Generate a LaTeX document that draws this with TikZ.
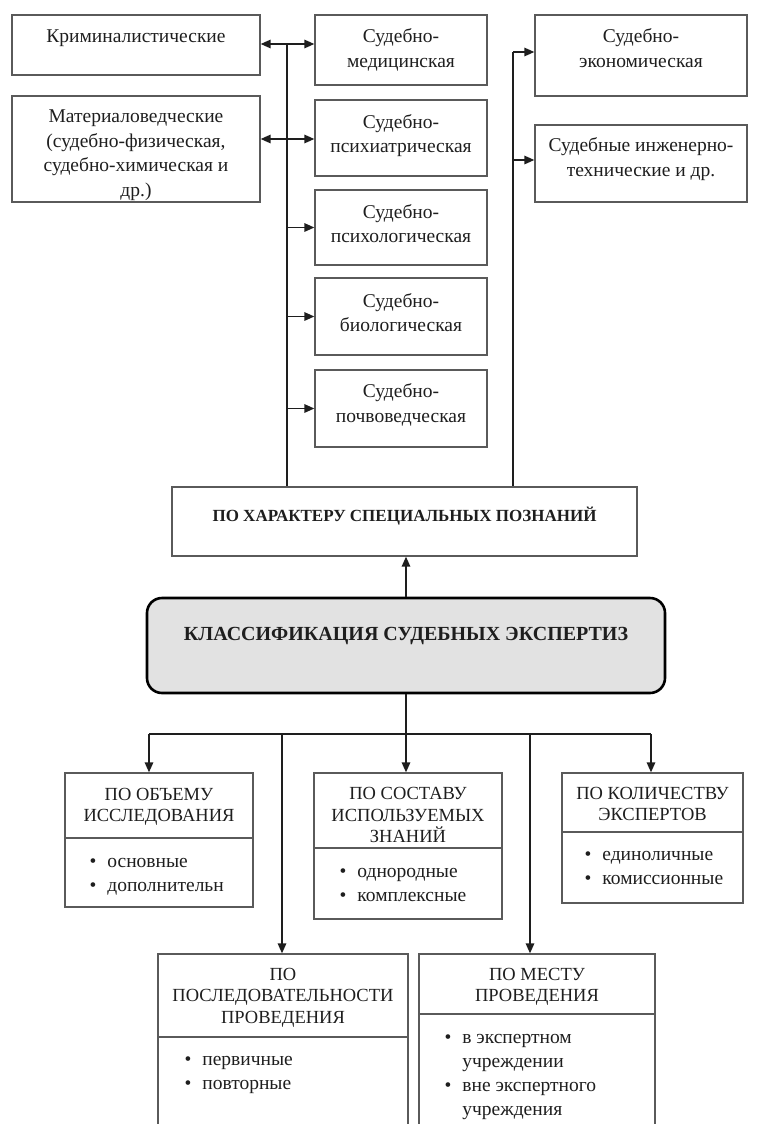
\documentclass[tikz,border=0pt]{standalone}
\usepackage{fontspec}
\setmainfont{Liberation Serif}
\usetikzlibrary{arrows.meta,positioning}
\definecolor{edge}{HTML}{5A5A5A}
\definecolor{ink}{HTML}{1E1E1E}
\definecolor{mainfill}{HTML}{E2E2E2}

\begin{document}
\begin{tikzpicture}[x=1pt,y=-1pt,
    blk/.style={draw=edge,line width=1.3pt,inner sep=0pt},
    txt/.style={align=center,inner sep=0pt,anchor=north,text=ink,
        font=\fontsize{19.5}{24.5}\selectfont},
    hd/.style={align=center,inner sep=0pt,anchor=north,text=ink,
        font=\fontsize{18.5}{21.5}\selectfont},
    lst/.style={align=left,inner sep=0pt,anchor=north west,text=ink,
        font=\fontsize{19.5}{24}\selectfont},
    arr/.style={draw=ink,line width=1.5pt,-{Triangle[length=10pt,width=8.5pt]}},
    darr/.style={draw=ink,line width=1.5pt,{Triangle[length=10pt,width=8.5pt]}-{Triangle[length=10pt,width=8.5pt]}},
    ln/.style={draw=ink,line width=1.5pt}]

    \path[use as bounding box,clip] (0,0) rectangle (757,1124);

    % the boxes

    \node[blk,minimum width=248pt,minimum height=60pt] (krim) at (136,45) {};
    \node[blk,minimum width=248pt,minimum height=106pt] (mat) at (136,149) {};
    \node[blk,minimum width=172pt,minimum height=70pt] (med) at (401,50) {};
    \node[blk,minimum width=172pt,minimum height=76pt] (psi) at (401,138) {};
    \node[blk,minimum width=172pt,minimum height=75pt] (pslg) at (401,227.5) {};
    \node[blk,minimum width=172pt,minimum height=77pt] (bio) at (401,316.5) {};
    \node[blk,minimum width=172pt,minimum height=77pt] (pochv) at (401,408.5) {};
    \node[blk,minimum width=212pt,minimum height=81pt] (econ) at (641,55.5) {};
    \node[blk,minimum width=212pt,minimum height=77pt] (ing) at (641,163.5) {};
    \node[blk,minimum width=465pt,minimum height=69pt] (har) at (404.5,521.5) {};
    \node[draw=black,line width=2.6pt,rounded corners=15pt,fill=mainfill,
        minimum width=518pt,minimum height=95pt] (main) at (406,645.5) {};
    \node[blk,minimum width=188pt,minimum height=134pt] (obj) at (159,840) {};
    \node[blk,minimum width=188pt,minimum height=146pt] (sost) at (408,846) {};
    \node[blk,minimum width=181pt,minimum height=130pt] (kol) at (652.5,838) {};
    \node[blk,minimum width=250pt,minimum height=196pt] (posl) at (283,1052) {};
    \node[blk,minimum width=236pt,minimum height=196pt] (mesto) at (537,1052) {};

    \draw[edge,line width=1.3pt] (obj.west |- 0,838) -- (obj.east |- 0,838);
    \draw[edge,line width=1.3pt] (sost.west |- 0,848) -- (sost.east |- 0,848);
    \draw[edge,line width=1.3pt] (kol.west |- 0,832) -- (kol.east |- 0,832);
    \draw[edge,line width=1.3pt] (posl.west |- 0,1037) -- (posl.east |- 0,1037);
    \draw[edge,line width=1.3pt] (mesto.west |- 0,1014) -- (mesto.east |- 0,1014);

    % the texts

    \node[txt] (krim-t) at (krim.north |- 0,25.5) {\strut Криминалистические};
    \node[txt] (mat-t) at (mat.north |- 0,105.5) {\strut Материаловедческие\\(судебно-физическая,\\судебно-химическая и\\др.)};
    \node[txt] (med-t) at (med.north |- 0,25.5) {\strut Судебно-\\медицинская};
    \node[txt] (psi-t) at (psi.north |- 0,111) {\strut Судебно-\\психиатрическая};
    \node[txt] (pslg-t) at (pslg.north |- 0,201) {\strut Судебно-\\психологическая};
    \node[txt] (bio-t) at (bio.north |- 0,290) {\strut Судебно-\\биологическая};
    \node[txt] (pochv-t) at (pochv.north |- 0,380.5) {\strut Судебно-\\почвоведческая};
    \node[txt] (econ-t) at (econ.north |- 0,25.5) {\strut Судебно-\\экономическая};
    \node[txt] (ing-t) at (ing.north |- 0,134.5) {\strut Судебные инженерно-\\технические и др.};
    \node[txt,font=\fontsize{17}{21}\selectfont\bfseries] (har-t) at (har.north |- 0,506.5) {\strut ПО ХАРАКТЕРУ СПЕЦИАЛЬНЫХ ПОЗНАНИЙ};
    \node[txt,font=\fontsize{20}{24}\selectfont\bfseries] (main-t) at (main.north |- 0,623.5) {\strut КЛАССИФИКАЦИЯ СУДЕБНЫХ ЭКСПЕРТИЗ};

    \node[hd] (obj-t) at (obj.north |- 0,785) {\strut ПО ОБЪЕМУ\\ИССЛЕДОВАНИЯ};
    \node[hd] (sost-t) at (sost.north |- 0,784.5) {\strut ПО СОСТАВУ\\ИСПОЛЬЗУЕМЫХ\\ЗНАНИЙ};
    \node[hd] (kol-t) at (kol.north |- 0,784) {\strut ПО КОЛИЧЕСТВУ\\ЭКСПЕРТОВ};
    \node[hd] (posl-t) at (posl.north |- 0,965) {\strut ПО\\ПОСЛЕДОВАТЕЛЬНОСТИ\\ПРОВЕДЕНИЯ};
    \node[hd] (mesto-t) at (mesto.north |- 0,965) {\strut ПО МЕСТУ\\ПРОВЕДЕНИЯ};

    \node[lst] (obj-l) at ([xshift=25pt]obj.west |- 0,850.7) {\strut\textbullet\hspace{11pt}основные\\\textbullet\hspace{11pt}дополнительн};
    \node[lst] (sost-l) at ([xshift=26pt]sost.west |- 0,860.7) {\strut\textbullet\hspace{11pt}однородные\\\textbullet\hspace{11pt}комплексные};
    \node[lst] (kol-l) at ([xshift=23pt]kol.west |- 0,843.5) {\strut\textbullet\hspace{11pt}единоличные\\\textbullet\hspace{11pt}комиссионные};
    \node[lst] (posl-l) at ([xshift=27pt]posl.west |- 0,1048.7) {\strut\textbullet\hspace{11pt}первичные\\\textbullet\hspace{11pt}повторные};
    \node[lst] (mesto-l) at ([xshift=26pt]mesto.west |- 0,1026.7) {\strut\textbullet\hspace{11pt}в экспертном\\\hphantom{\textbullet}\hspace{11pt}учреждении\\\textbullet\hspace{11pt}вне экспертного\\\hphantom{\textbullet}\hspace{11pt}учреждения};

    % the connectors

    \coordinate (lt) at (287,44);
    \coordinate (rt) at (513,52);
    \draw[darr] (krim.east |- lt) -- (med.west |- lt);
    \draw[darr] (mat.east |- 0,139) -- (psi.west |- 0,139);
    \draw[ln] (lt) -- (lt |- har.north);
    \draw[arr] (lt |- pslg.west) -- (pslg.west);
    \draw[arr] (lt |- bio.west) -- (bio.west);
    \draw[arr] (lt |- pochv.west) -- (pochv.west);
    \draw[ln] (rt) -- (rt |- har.north);
    \draw[arr] (rt) -- (rt -| econ.west);
    \draw[arr] (rt |- 0,160) -- (ing.west |- 0,160);
    \draw[arr] (main.north) -- (main.north |- har.south);

    \coordinate (b1) at (149,734);
    \coordinate (b2) at (282,734);
    \coordinate (b3) at (406,734);
    \coordinate (b4) at (530,734);
    \coordinate (b5) at (651,734);
    \draw[ln] (main.south) -- (b3);
    \draw[ln] (b1) -- (b5);
    \draw[arr] (b1) -- (b1 |- obj.north);
    \draw[arr] (b3) -- (b3 |- sost.north);
    \draw[arr] (b5) -- (b5 |- kol.north);
    \draw[arr] (b2) -- (b2 |- posl.north);
    \draw[arr] (b4) -- (b4 |- mesto.north);
\end{tikzpicture}
\end{document}
